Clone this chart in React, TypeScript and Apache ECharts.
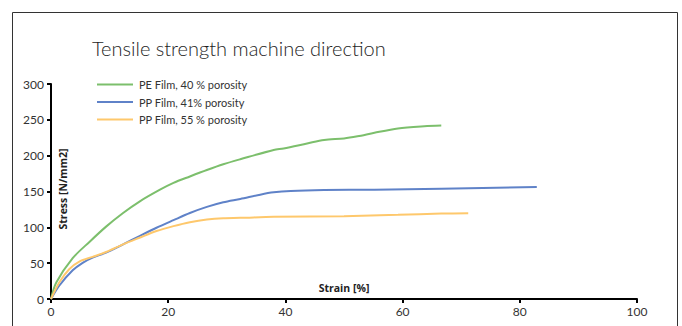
import React, { useEffect, useRef } from "react";
import * as echarts from "echarts";

const titleText = "Tensile strength machine direction";
const seriesNames = ["PE Film, 40 % porosity", "PP Film, 41% porosity", "PP Film, 55 % porosity"];
const seriesColors = ["#7cbf6c", "#5f82c8", "#fec86c"];

const peStrain = [0, 0.9, 3.7, 6.6, 9.4, 12.3, 15.1, 18.6, 20.9, 23.7, 26.6, 29.4, 32.3, 38, 39.7, 43.7, 46.6, 50, 52.3, 55.2, 59.2, 63.7, 66.6];
const peStress = [0, 23, 57, 80, 101, 120, 136, 152.5, 162, 171, 180, 188, 195, 208, 210, 217, 222, 224, 227, 232, 238, 241, 242];

const pp41Strain = [0, 1.4, 3.7, 5.4, 7.1, 9.4, 12.3, 15.1, 18, 20.9, 23.7, 26.6, 29.4, 32.3, 35.7, 38, 40.9, 46.6, 55.2, 66.6, 82.9];
const pp41Stress = [0, 18.5, 40, 50.5, 57.8, 64.7, 76.3, 87.8, 99.4, 110, 120, 128.5, 135, 139.6, 145.6, 148.8, 150.7, 152, 152.5, 153.9, 156.2];

const pp55Strain = [0, 1.4, 3.1, 4.9, 7.1, 9.4, 12.3, 15.1, 18, 20.9, 23.7, 26.6, 29.4, 32.3, 38, 50, 59.2, 66.6, 71.2];
const pp55Stress = [0, 23, 41.6, 52.5, 58.7, 65.6, 76.3, 85.5, 94.8, 101.7, 107.2, 111, 112.8, 113.2, 114.6, 115.5, 117.4, 119.2, 119.7];

const xAxisName = "Strain [%]";
const yAxisName = "Stress [N/mm2]";

const zip = (xs: number[], ys: number[]) => xs.map((x, i) => [x, ys[i]]);

export default function App() {
  const ref = useRef<HTMLDivElement>(null);
  useEffect(() => {
    if (!ref.current) return;
    const chart = echarts.init(ref.current, null, { renderer: "svg" });
    const font = "Lato, 'Open Sans', sans-serif";
    const boldFont = "'Open Sans', Lato, sans-serif";
    const datasets = [zip(peStrain, peStress), zip(pp41Strain, pp41Stress), zip(pp55Strain, pp55Stress)];
    chart.setOption({
      animation: false,
      backgroundColor: "#ffffff",
      textStyle: { fontFamily: font },
      title: {
        text: titleText,
        left: 87,
        top: 33,
        textStyle: { fontFamily: font, fontSize: 20, fontWeight: 300, color: "#1e1e1e" },
      },
      legend: {
        orient: "vertical",
        left: 92,
        top: 74,
        icon: "rect",
        itemWidth: 36,
        itemHeight: 2,
        itemGap: 6.5,
        data: seriesNames,
        textStyle: { fontFamily: font, fontSize: 11, color: "#333", padding: [0, 0, 0, 1] },
      },
      graphic: [
        {
          type: "rect",
          shape: { x: 12.5, y: 12.5, width: 665, height: 340 },
          style: { fill: "none", stroke: "#333", lineWidth: 1 },
          silent: true,
        },
        {
          type: "text",
          x: 344,
          y: 288,
          style: {
            text: xAxisName,
            fontFamily: boldFont,
            fontSize: 10.5,
            fontWeight: "bold",
            fill: "#222",
            align: "center",
            verticalAlign: "middle",
          },
        },
        {
          type: "text",
          x: 63,
          y: 189,
          rotation: Math.PI / 2,
          style: {
            text: yAxisName,
            fontFamily: boldFont,
            fontSize: 10.5,
            fontWeight: "bold",
            fill: "#222",
            align: "center",
            verticalAlign: "middle",
          },
        },
      ],
      grid: { left: 51, right: 45, top: 84, bottom: 27, outerBoundsMode: "none", containLabel: false },
      xAxis: {
        type: "value",
        min: 0,
        max: 100,
        interval: 20,
        axisLine: { lineStyle: { color: "#000", width: 2 } },
        axisTick: { show: true, length: 4, lineStyle: { color: "#000", width: 2 } },
        axisLabel: { fontSize: 12, color: "#333", margin: 6, fontFamily: font },
        splitLine: { show: false },
      },
      yAxis: {
        type: "value",
        min: 0,
        max: 300,
        interval: 50,
        axisLine: { show: true, lineStyle: { color: "#000", width: 2 } },
        axisTick: { show: true, length: 4, lineStyle: { color: "#000", width: 2 } },
        axisLabel: { fontSize: 12, color: "#333", margin: 7, fontFamily: font },
        splitLine: { show: false },
      },
      series: seriesNames.map((name, i) => ({
        name,
        type: "line",
        data: datasets[i],
        smooth: 0.3,
        symbol: "none",
        showSymbol: false,
        lineStyle: { color: seriesColors[i], width: 2 },
        itemStyle: { color: seriesColors[i] },
      })),
    });
    return () => chart.dispose();
  }, []);
  return (
    <div
      ref={ref}
      style={{ position: "absolute", left: 0, top: 0, width: 682, height: 326 }}
    />
  );
}
